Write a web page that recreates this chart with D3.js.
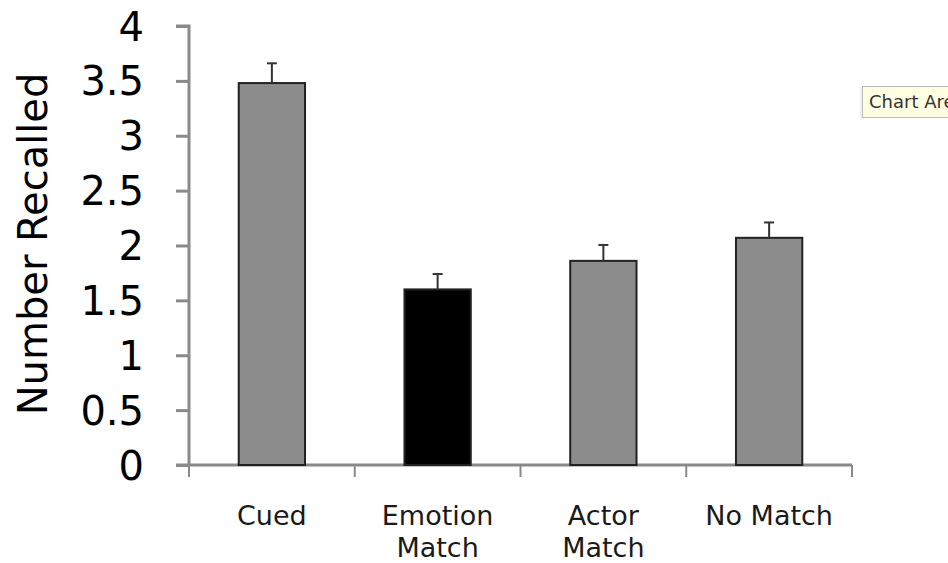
<!DOCTYPE html>
<html><head><meta charset="utf-8">
<script src="https://cdn.jsdelivr.net/npm/d3@7"></script>
<style>body{margin:0;background:#fff}svg{display:block}</style>
</head><body>
<svg id="c" width="948" height="563"></svg>
<script>
const categories = [["Cued"], ["Emotion", "Match"], ["Actor", "Match"], ["No Match"]];
const values = [3.48, 1.60, 1.86, 2.07];
const errors = [0.18, 0.14, 0.145, 0.14];
const barColors = ["#8c8c8c", "#000000", "#8c8c8c", "#8c8c8c"];
const yTicks = [0, 0.5, 1, 1.5, 2, 2.5, 3, 3.5, 4];
const yTitle = "Number Recalled";

(function () {
const svg = d3.select("#c");
const pL = 189, pR = 852, pT = 26, pB = 465;
const FONT = "DejaVu Sans, Verdana, sans-serif";
const x = d3.scaleBand().domain(d3.range(categories.length)).range([pL, pR]).paddingInner(0.6).paddingOuter(0.3);
const xb = d3.scaleBand().domain(d3.range(categories.length)).range([pL, pR]);
const y = d3.scaleLinear().domain([0, 4]).range([pB, pT]);

const axisColor = "#8a8a8a";
// y axis
const ya = svg.append("g").attr("transform", `translate(${pL},0)`)
  .call(d3.axisLeft(y).tickValues(yTicks).tickSize(13).tickPadding(32).tickFormat(d => String(d)));
ya.select(".domain").attr("stroke", axisColor).attr("stroke-width", 3).attr("d", `M-13,${pT}H0V${pB}`);
ya.selectAll(".tick line").attr("stroke", axisColor).attr("stroke-width", 3);
ya.selectAll(".tick text").attr("font-family", FONT).attr("font-size", 40).attr("fill", "#000").attr("dy", "0.35em");

// x axis
const xa = svg.append("g").attr("transform", `translate(0,${pB})`);
xa.append("line").attr("x1", pL - 13).attr("x2", pR).attr("y1", 0).attr("y2", 0).attr("stroke", axisColor).attr("stroke-width", 3);
const xt = d3.range(categories.length + 1).map(i => i < categories.length ? xb(i) : xb(i - 1) + xb.bandwidth());
xa.selectAll("line.t").data(xt).join("line").attr("class", "t")
  .attr("x1", d => d).attr("x2", d => d).attr("y1", 0).attr("y2", 12).attr("stroke", axisColor).attr("stroke-width", 2);

// bars
svg.selectAll("rect.bar").data(values).join("rect").attr("class", "bar")
  .attr("x", (d, i) => x(i)).attr("width", x.bandwidth())
  .attr("y", d => y(d)).attr("height", d => pB - y(d))
  .attr("fill", (d, i) => barColors[i]).attr("stroke", "#222").attr("stroke-width", 2);

// error bars (upper only)
const eb = svg.selectAll("g.eb").data(values).join("g").attr("class", "eb");
eb.append("line").attr("x1", (d, i) => x(i) + x.bandwidth() / 2).attr("x2", (d, i) => x(i) + x.bandwidth() / 2)
  .attr("y1", d => y(d)).attr("y2", (d, i) => y(d + errors[i])).attr("stroke", "#333").attr("stroke-width", 2);
eb.append("line").attr("x1", (d, i) => x(i) + x.bandwidth() / 2 - 5).attr("x2", (d, i) => x(i) + x.bandwidth() / 2 + 5)
  .attr("y1", (d, i) => y(d + errors[i])).attr("y2", (d, i) => y(d + errors[i])).attr("stroke", "#333").attr("stroke-width", 2);

// category labels
const lab = svg.selectAll("text.cat").data(categories).join("text").attr("class", "cat")
  .attr("font-family", FONT).attr("font-size", 27).attr("fill", "#1a1a1a")
  .attr("text-anchor", "middle");
lab.selectAll("tspan").data((d, i) => d.map(s => ({s, i}))).join("tspan")
  .attr("x", d => xb(d.i) + xb.bandwidth() / 2)
  .attr("y", (d, j) => 525 + j * 32).text(d => d.s);

// y title
svg.append("text").attr("transform", `translate(33,244) rotate(-90)`)
  .attr("text-anchor", "middle").attr("dy", "0.35em")
  .attr("font-family", FONT).attr("font-size", 40).attr("fill", "#000").text(yTitle);

// tooltip (cut off by the window edge, as in the reference)
const tip = svg.append("g").attr("transform", "translate(862,86)");
tip.append("rect").attr("x", -2).attr("y", 1).attr("width", 4).attr("height", 32).attr("fill", "#eee");
tip.append("rect").attr("x", 0.5).attr("y", 0.5).attr("width", 120).attr("height", 31).attr("fill", "#ffffe1").attr("stroke", "#bbb");
tip.append("text").attr("x", 7).attr("y", 22).attr("font-family", FONT).attr("font-size", 18).attr("fill", "#333").text("Chart Area");
})();
</script>
</body></html>
